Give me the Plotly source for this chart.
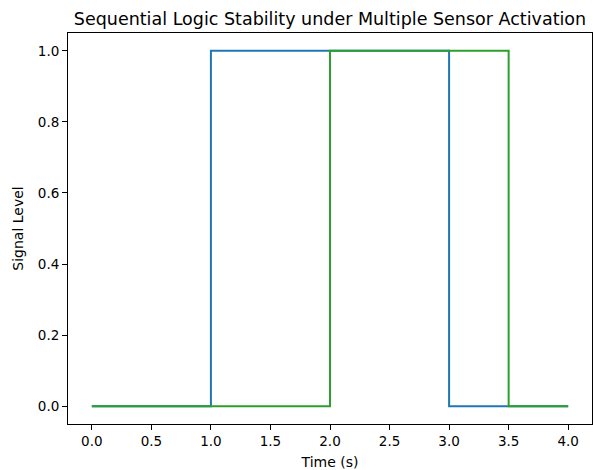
import plotly.graph_objects as go

time_s = [0, 1, 2, 3, 3.5, 4]
sensor_a = [0, 1, 1, 0, 0, 0]
sensor_b = [0, 0, 1, 1, 0, 0]

x_ticks = [0, 0.5, 1, 1.5, 2, 2.5, 3, 3.5, 4]
y_ticks = [0, 0.2, 0.4, 0.6, 0.8, 1.0]

fig = go.Figure()
fig.add_trace(go.Scatter(x=time_s, y=sensor_a, mode="lines", line_shape="hv",
                         line=dict(color="#1f77b4", width=2), name="Sensor A"))
fig.add_trace(go.Scatter(x=time_s, y=sensor_b, mode="lines", line_shape="hv",
                         line=dict(color="#2ca02c", width=2), name="Sensor B"))

axis_common = dict(showline=True, linecolor="black", linewidth=1, mirror=True,
                   ticks="outside", ticklen=5, tickwidth=1, tickcolor="black",
                   showgrid=False, zeroline=False, automargin=False,
                   tickfont=dict(family="DejaVu Sans", size=13.5, color="black"))

fig.update_layout(
    width=593, height=470,
    margin=dict(l=68, r=1, t=33, b=46, autoexpand=False),
    paper_bgcolor="white", plot_bgcolor="white",
    showlegend=False,
    font=dict(family="DejaVu Sans", color="black"),
    title=dict(text="Sequential Logic Stability under Multiple Sensor Activation",
               x=(68 + 592) / 2 / 593, xanchor="center", y=1 - 19 / 470, yanchor="middle",
               font=dict(family="DejaVu Sans", size=17.5, color="black")),
    xaxis=dict(range=[-0.2, 4.2], tickvals=x_ticks,
               ticktext=[f"{v:.1f}" for v in x_ticks],
               title=dict(text="Time (s)", font=dict(size=14), standoff=8), **axis_common),
    yaxis=dict(range=[-0.05, 1.05], tickvals=y_ticks,
               ticktext=[f"{v:.1f}" for v in y_ticks],
               title=dict(text="Signal Level", font=dict(size=14), standoff=10), **axis_common),
)

fig.write_html("out.html", config={"displayModeBar": False},
               post_script="document.body.style.margin='0';document.body.style.overflow='hidden';")
